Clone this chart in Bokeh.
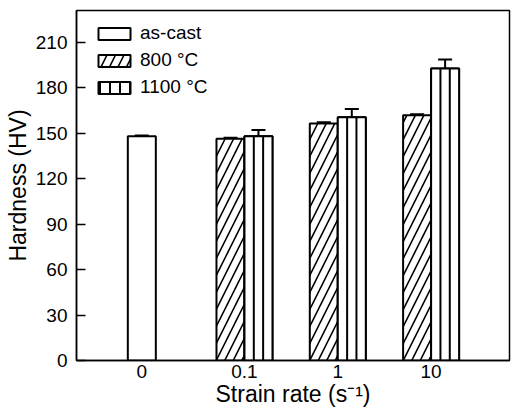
from bokeh.plotting import figure
from bokeh.models import (ColumnDataSource, Whisker, TeeHead, Legend, LegendItem,
                          FixedTicker, Range1d)
from bokeh.embed import file_html
from bokeh.resources import INLINE

# ---- data ----
strain_labels = ["0", "0.1", "1", "10"]
strain_pos = [0.0, 1.1, 2.1, 3.1]

ascast_hv = [148.0]
ascast_err = [0.5]
hv_800 = [146.3, 156.5, 161.8]
err_800 = [0.7, 0.7, 0.7]
hv_1100 = [148.0, 160.5, 192.8]
err_1100 = [4.2, 5.5, 5.8]

series_names = ["as-cast", "800 \u00b0C", "1100 \u00b0C"]
y_ticks = [0, 30, 60, 90, 120, 150, 180, 210]

FONT = "Liberation Sans"
bw = 0.3

p = figure(width=514, height=410, x_range=Range1d(-0.7, 3.94), y_range=Range1d(0, 231),
           output_backend="svg", toolbar_location=None,
           min_border_left=76, min_border_right=5, min_border_top=10, min_border_bottom=50)
p.xgrid.visible = False
p.ygrid.visible = False
p.outline_line_color = "black"
p.outline_line_width = 1.5
p.outline_line_alpha = 1

x_ac = [strain_pos[0]]
x_800 = [x - bw / 2 for x in strain_pos[1:]]
x_1100 = [x + bw / 2 for x in strain_pos[1:]]

r_ac = p.vbar(x=x_ac, top=ascast_hv, width=bw, bottom=0, fill_color="white",
              line_color="black", line_width=2)
r_800 = p.vbar(x=x_800, top=hv_800, width=bw, bottom=0, fill_color="white",
               line_color="black", line_width=2, hatch_pattern="/", hatch_scale=17,
               hatch_weight=1.6, hatch_color="black")
# striped proxy (used for the legend swatch), covered by the real bars drawn on top
r_1100_leg = p.vbar(x=x_1100, top=hv_1100, width=bw, bottom=0, fill_color="white",
                    line_color="black", line_width=2, hatch_pattern="|", hatch_scale=10,
                    hatch_weight=2, hatch_color="black")
r_1100 = p.vbar(x=x_1100, top=hv_1100, width=bw, bottom=0, fill_color="white",
                line_color="black", line_width=2)
# vertical stripes inside the 1100 bars
p.segment(x0=[x - bw / 6 for x in x_1100], x1=[x - bw / 6 for x in x_1100],
          y0=[0] * len(x_1100), y1=hv_1100, line_color="black", line_width=2)
p.segment(x0=[x + bw / 6 for x in x_1100], x1=[x + bw / 6 for x in x_1100],
          y0=[0] * len(x_1100), y1=hv_1100, line_color="black", line_width=2)

# error bars
ex = x_ac + x_800 + x_1100
ev = ascast_hv + hv_800 + hv_1100
ee = ascast_err + err_800 + err_1100
esrc = ColumnDataSource(dict(x=ex, lower=[v - e for v, e in zip(ev, ee)],
                             upper=[v + e for v, e in zip(ev, ee)]))
wh = Whisker(source=esrc, base="x", lower="lower", upper="upper",
             line_color="black", line_width=2,
             upper_head=TeeHead(size=14, line_width=2, line_color="black"),
             lower_head=TeeHead(size=14, line_width=2, line_color="black"))
p.add_layout(wh)

legend = Legend(items=[LegendItem(label=series_names[0], renderers=[r_ac]),
                       LegendItem(label=series_names[1], renderers=[r_800]),
                       LegendItem(label=series_names[2], renderers=[r_1100_leg])],
                location=(18, 262), margin=0, padding=0, spacing=5,
                glyph_width=40, glyph_height=15, label_height=20, label_standoff=6,
                label_text_font=FONT, label_text_font_size="19px", label_text_color="black",
                border_line_alpha=0, background_fill_alpha=0)
p.add_layout(legend)

# axes
p.xaxis.ticker = FixedTicker(ticks=strain_pos)
p.xaxis.major_label_overrides = {pos: lab for pos, lab in zip(strain_pos, strain_labels)}
p.xaxis.major_tick_in = 0
p.xaxis.major_tick_out = 0
p.xaxis.minor_tick_in = 0
p.xaxis.minor_tick_out = 0
p.xaxis.axis_label = "Strain rate (s\u207b\u00b9)"

p.yaxis.ticker = FixedTicker(ticks=y_ticks)
p.yaxis.major_tick_in = 9
p.yaxis.major_tick_out = 0
p.yaxis.minor_tick_in = 0
p.yaxis.minor_tick_out = 0
p.yaxis.axis_label = "Hardness (HV)"

for ax in (p.xaxis[0], p.yaxis[0]):
    ax.axis_line_color = "black"
    ax.axis_line_width = 1.5
    ax.major_tick_line_color = "black"
    ax.major_tick_line_width = 1.5
    ax.major_label_text_font = FONT
    ax.major_label_text_font_size = "19px"
    ax.major_label_text_color = "black"
    ax.major_label_text_line_height = 1.0
    ax.axis_label_text_font = FONT
    ax.axis_label_text_font_size = "23px"
    ax.axis_label_text_font_style = "normal"
    ax.axis_label_text_color = "black"
    ax.axis_label_text_line_height = 1.0

p.yaxis.major_label_standoff = 9
p.yaxis.axis_label_standoff = 2
p.xaxis.major_label_standoff = 4
p.xaxis.axis_label_standoff = 0

open("out.html", "w").write(file_html(p, INLINE))
